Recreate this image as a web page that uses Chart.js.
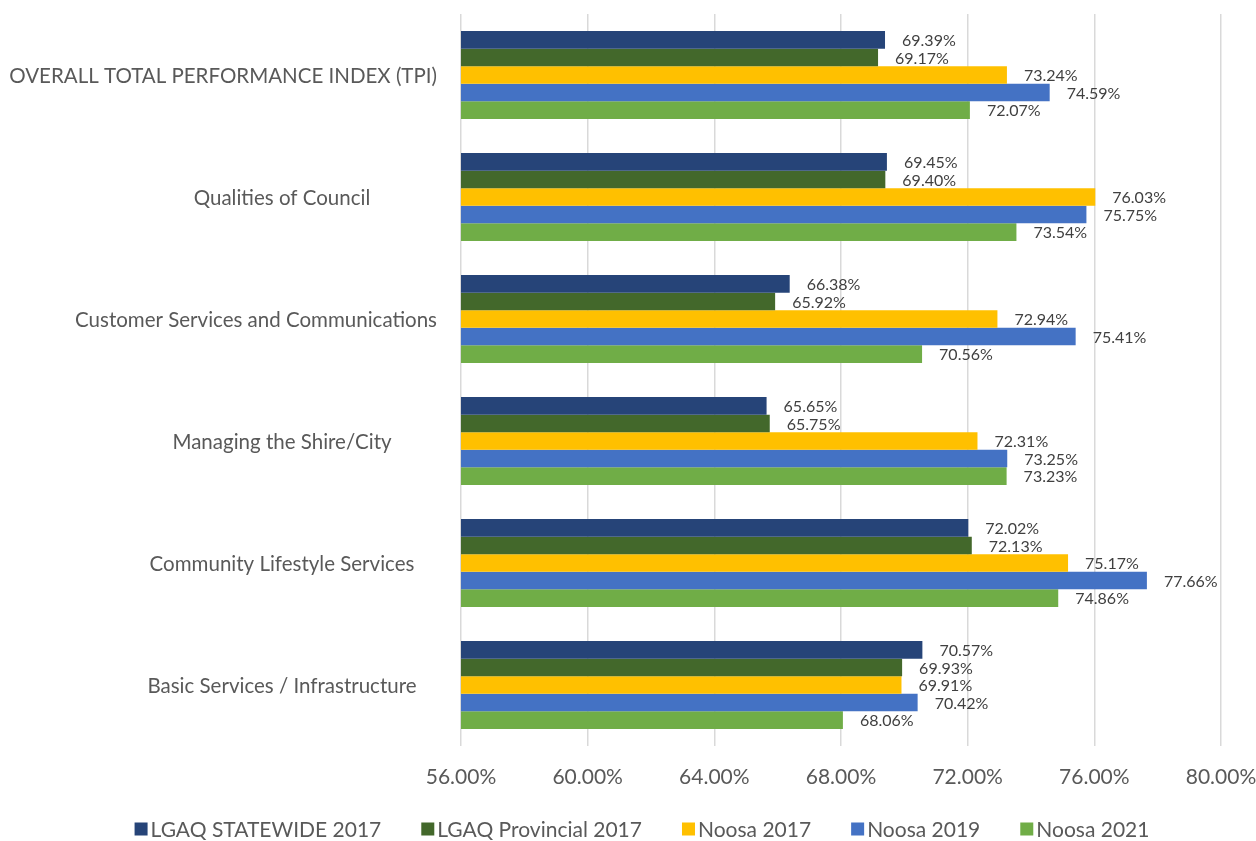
<!DOCTYPE html>
<html>
<head>
    <meta charset="utf-8" />
    <title>TPI comparison</title>
    <script src="https://cdn.jsdelivr.net/npm/chart.js"></script>
    <style>
        html, body { margin: 0; padding: 0; background: #fff; }
        #wrap { width: 1256px; height: 841px; }
    </style>
</head>
<body>
    <div id="wrap">
        <canvas id="myChart" width="1256" height="841"></canvas>
    </div>

    <script>
        const categories = [
            'OVERALL TOTAL PERFORMANCE INDEX (TPI)',
            'Qualities of Council',
            'Customer Services and Communications',
            'Managing the Shire/City',
            'Community Lifestyle Services',
            'Basic Services / Infrastructure'
        ];
        const statewide2017 = [69.39, 69.45, 66.38, 65.65, 72.02, 70.57];
        const provincial2017 = [69.17, 69.40, 65.92, 65.75, 72.13, 69.93];
        const noosa2017 = [73.24, 76.03, 72.94, 72.31, 75.17, 69.91];
        const noosa2019 = [74.59, 75.75, 75.41, 73.25, 77.66, 70.42];
        const noosa2021 = [72.07, 73.54, 70.56, 73.23, 74.86, 68.06];
        const xTicks = [56, 60, 64, 68, 72, 76, 80];

        const FONT = 'Lato, "Open Sans", sans-serif';
        const GREY = '#595959';

        // value labels to the right of each bar
        const valueLabels = {
            id: 'valueLabels',
            afterDatasetsDraw(chart) {
                const ctx = chart.ctx;
                ctx.save();
                ctx.font = '16px ' + FONT;
                ctx.fillStyle = '#404040';
                ctx.textBaseline = 'middle';
                ctx.textAlign = 'left';
                chart.data.datasets.forEach((ds, i) => {
                    chart.getDatasetMeta(i).data.forEach((bar, j) => {
                        ctx.fillText(ds.data[j].toFixed(2) + '%', bar.x + 17, bar.y + 1);
                    });
                });
                ctx.restore();
            }
        };

        // category labels, centred in the label column like the original
        const catLabels = {
            id: 'catLabels',
            afterDraw(chart) {
                const ctx = chart.ctx;
                const y = chart.scales.y;
                ctx.save();
                ctx.font = '20.5px ' + FONT;
                ctx.fillStyle = GREY;
                ctx.textBaseline = 'middle';
                ctx.textAlign = 'center';
                categories.forEach((c, i) => {
                    const w = ctx.measureText(c).width;
                    const cx = Math.min(282, 437 - w / 2);
                    ctx.fillText(c, cx, y.getPixelForTick(i) + 1);
                });
                ctx.restore();
            }
        };

        // legend drawn under the axis, square swatches close to the text
        const bottomLegend = {
            id: 'bottomLegend',
            afterDraw(chart) {
                const ctx = chart.ctx;
                ctx.save();
                ctx.font = '21px ' + FONT;
                ctx.textBaseline = 'middle';
                ctx.textAlign = 'left';
                const items = chart.data.datasets.map(ds => ({
                    text: ds.label, color: ds.backgroundColor, w: ctx.measureText(ds.label).width
                }));
                const box = 13, gap = 3, between = 40;
                let total = items.reduce((s, it) => s + box + gap + it.w, 0) + between * (items.length - 1);
                let x = 642 - total / 2;
                const cy = 829;
                items.forEach(it => {
                    ctx.fillStyle = it.color;
                    ctx.fillRect(x, cy - box / 2, box, box);
                    ctx.fillStyle = GREY;
                    ctx.fillText(it.text, x + box + gap, cy + 1);
                    x += box + gap + it.w + between;
                });
                ctx.restore();
            }
        };

        const data = {
            labels: categories,
            datasets: [
                { label: 'LGAQ STATEWIDE 2017', data: statewide2017, backgroundColor: '#264478' },
                { label: 'LGAQ Provincial 2017', data: provincial2017, backgroundColor: '#43682b' },
                { label: 'Noosa 2017', data: noosa2017, backgroundColor: '#ffc000' },
                { label: 'Noosa 2019', data: noosa2019, backgroundColor: '#4472c4' },
                { label: 'Noosa 2021', data: noosa2021, backgroundColor: '#70ad47' }
            ]
        };

        const config = {
            type: 'bar',
            data,
            plugins: [valueLabels, catLabels, bottomLegend],
            options: {
                indexAxis: 'y',
                responsive: false,
                animation: false,
                devicePixelRatio: 1,
                layout: { padding: { top: 14, right: 4, left: 0, bottom: 35 } },
                datasets: {
                    bar: { barPercentage: 1, categoryPercentage: 0.72 }
                },
                plugins: {
                    legend: { display: false },
                    tooltip: { enabled: false }
                },
                scales: {
                    x: {
                        min: xTicks[0],
                        max: xTicks[xTicks.length - 1],
                        afterBuildTicks(axis) {
                            axis.ticks = xTicks.map(v => ({ value: v }));
                        },
                        afterFit(axis) {
                            axis.height = 60;
                            axis.paddingRight = 35;
                        },
                        grid: { color: '#d9d9d9', lineWidth: 1.5, drawTicks: false },
                        border: { display: false },
                        ticks: {
                            padding: 19,
                            color: GREY,
                            font: { family: FONT, size: 21 },
                            callback: v => v.toFixed(2) + '%'
                        }
                    },
                    y: {
                        afterFit(axis) { axis.width = 461; },
                        grid: { display: false },
                        border: { display: false },
                        ticks: { display: false }
                    }
                }
            }
        };

        var myChart = new Chart(document.getElementById('myChart'), config);
    </script>
</body>
</html>
